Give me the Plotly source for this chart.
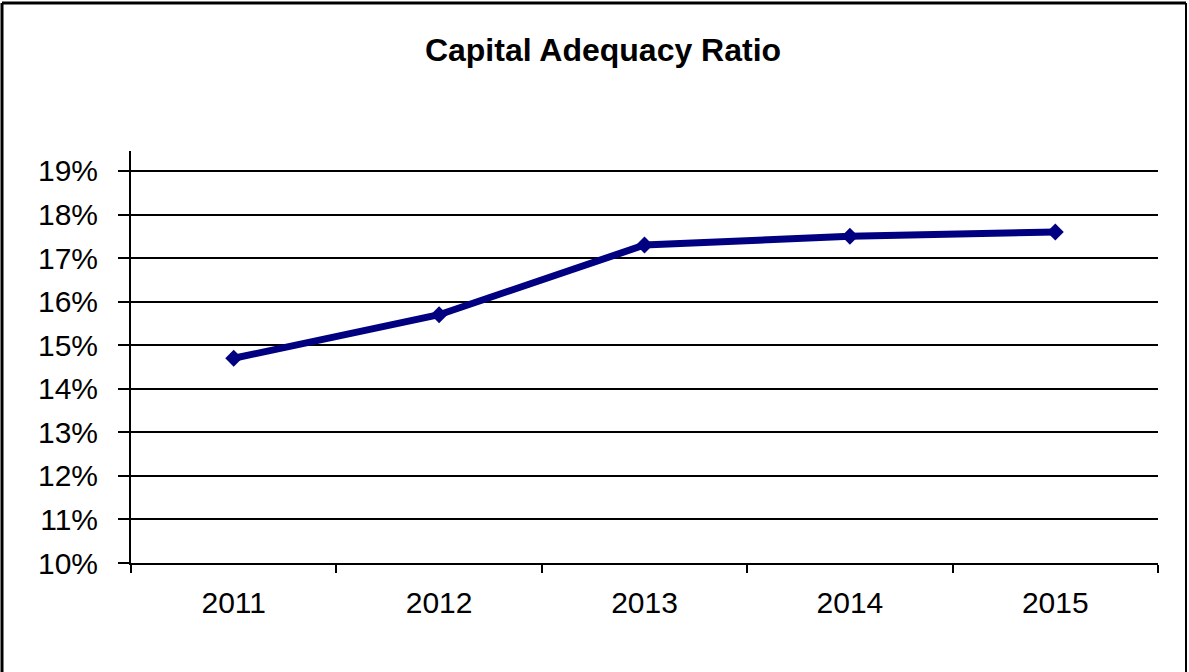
import plotly.graph_objects as go

years = ["2011", "2012", "2013", "2014", "2015"]
ratio = [0.147, 0.157, 0.173, 0.175, 0.176]
y_ticks = [0.10, 0.11, 0.12, 0.13, 0.14, 0.15, 0.16, 0.17, 0.18, 0.19]
title_text = "Capital Adequacy Ratio"

W, H = 1189, 672
ML, MR, MT, MB = 131, 31, 151, 109
pw = W - ML - MR
ph = H - MT - MB

def px_x(px):
    return (px - ML) / pw

def px_y(py):
    return (H - MB - py) / ph

fig = go.Figure()
fig.add_trace(go.Scatter(
    x=years, y=ratio, mode="lines+markers",
    line=dict(color="#000080", width=7),
    marker=dict(symbol="diamond", size=13, color="#000080"),
    showlegend=False, hoverinfo="skip",
))

font_family = "Liberation Sans, Arial, sans-serif"

fig.update_layout(
    width=W, height=H,
    margin=dict(l=ML, r=MR, t=MT, b=MB),
    paper_bgcolor="white", plot_bgcolor="white",
    title=dict(text="<b>" + title_text + "</b>", x=603 / W, xanchor="center",
               y=1 - 50 / H, yanchor="middle",
               font=dict(family=font_family, size=32, color="black")),
    font=dict(family=font_family, color="black"),
    xaxis=dict(
        type="category", range=[-0.5, 4.5],
        showline=True, linecolor="black", linewidth=2,
        ticks="outside", tickson="boundaries", ticklen=8, tickwidth=2, tickcolor="black",
        showgrid=False, tickfont=dict(size=30, family=font_family, color="black"),
        ticklabelstandoff=12,
    ),
    yaxis=dict(
        range=[0.10, 0.10 + 0.01 * 412 / 43.56],
        tickvals=y_ticks, tickformat=".0%",
        showline=True, linecolor="black", linewidth=2,
        ticks="outside", ticklen=11, tickwidth=2, tickcolor="black",
        showgrid=True, gridcolor="black", gridwidth=2,
        zeroline=False,
        tickfont=dict(size=30, family=font_family, color="black"),
        ticklabelstandoff=14,
    ),
)

# outer frame (left, top, right)
fig.add_shape(type="line", xref="paper", yref="paper",
              x0=px_x(2), x1=px_x(2), y0=px_y(3), y1=px_y(H + 5),
              line=dict(color="black", width=3))
fig.add_shape(type="line", xref="paper", yref="paper",
              x0=px_x(2), x1=px_x(1186), y0=px_y(3), y1=px_y(3),
              line=dict(color="black", width=3))
fig.add_shape(type="line", xref="paper", yref="paper",
              x0=px_x(1186), x1=px_x(1186), y0=px_y(3), y1=px_y(H + 5),
              line=dict(color="black", width=2))

fig.write_html("out.html")
